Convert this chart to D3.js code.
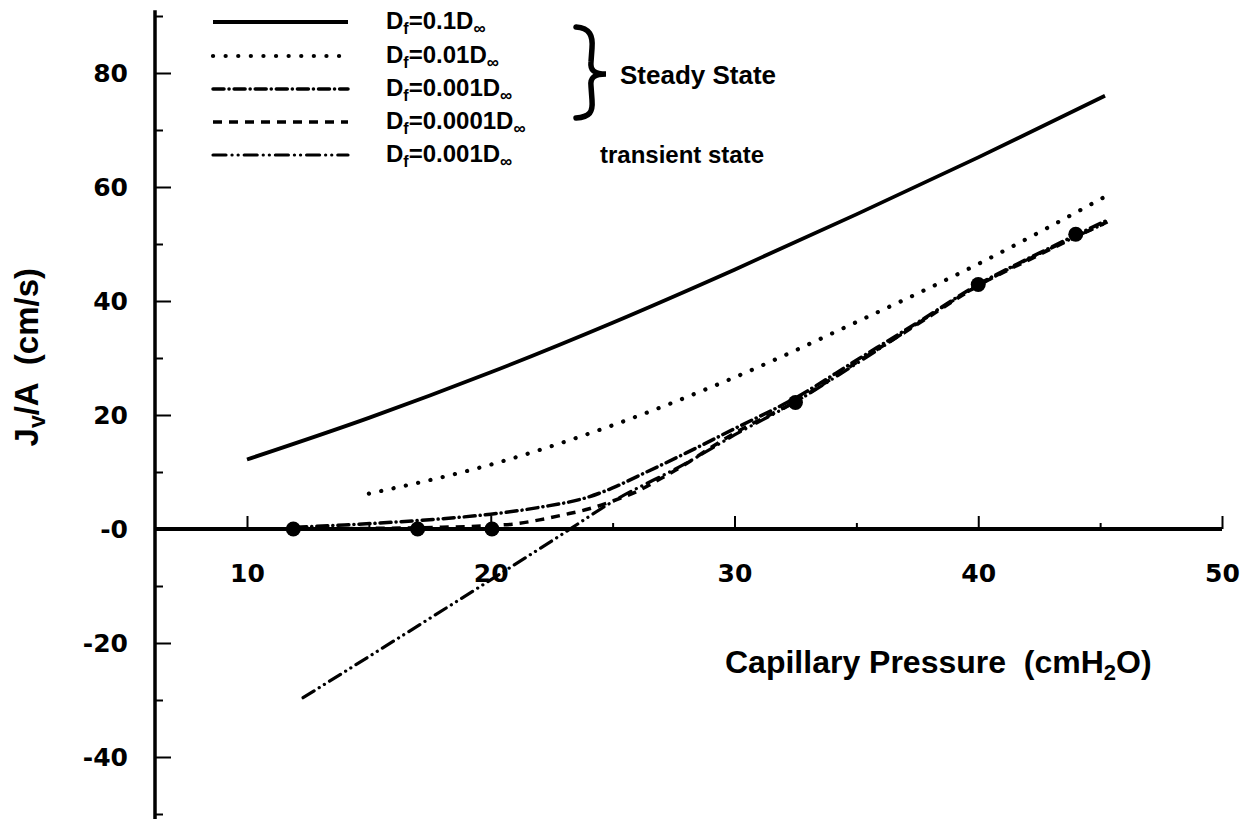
<!DOCTYPE html>
<html><head><meta charset="utf-8">
<script src="https://cdn.jsdelivr.net/npm/d3@7"></script>
<style>body{margin:0;background:#fff}svg{display:block}text{white-space:pre}</style>
</head><body>
<svg id="chart" width="1252" height="819"></svg>
<script>
// ---------- data ----------
const xMajorTicks = [10, 20, 30, 40, 50];
const xMinorTicks = [15, 25, 35, 45];
const yMajorTicks = [-40, -20, 0, 20, 40, 60, 80];
const yTickLabels = ["-40", "-20", "-0", "20", "40", "60", "80"];
const yMinorTicks = [-50, -30, -10, 10, 30, 50, 70, 90];

// Df = 0.1 D∞ (steady state)
const s01X = [10, 15, 20, 25, 30, 35, 40, 45.2];
const s01Y = [12.2, 19.5, 27.5, 36.2, 45.5, 55.2, 65.2, 76];
// Df = 0.01 D∞ (steady state)
const s001X = [15, 20, 25, 30, 35, 40, 45.2];
const s001Y = [6.2, 11.3, 18.2, 26.6, 36.3, 46.5, 58.3];
// Df = 0.001 D∞ (steady state)
const s0001X = [12, 14, 16, 18, 20, 22, 24, 25, 26, 28, 30, 32.5, 35, 37.5, 40, 42.5, 45.3];
const s0001Y = [0.3, 0.7, 1.2, 1.8, 2.6, 3.8, 5.6, 7.2, 9.2, 13.3, 17.6, 23, 29.6, 36.2, 42.9, 48.4, 54.2];
// Df = 0.0001 D∞ (steady state)
const s00001X = [12, 15, 18, 20, 21, 22, 23, 24, 25, 26, 27, 28, 29, 30, 32.5, 35, 37.5, 40, 42.5, 45.3];
const s00001Y = [0, 0.1, 0.3, 0.6, 0.9, 1.6, 2.5, 3.5, 4.9, 6.6, 8.9, 11.4, 14.2, 16.8, 22.4, 29.2, 35.9, 42.7, 48.1, 53.9];
// Df = 0.001 D∞ (transient state)
const tr0001X = [12.3, 22.9, 25, 28, 30, 32.5, 35, 40, 45.3];
const tr0001Y = [-29.6, -1, 4.8, 11.5, 16.5, 22.3, 29, 42.7, 53.8];
// measured points
const expX = [11.9, 17, 20.05, 32.5, 40, 44];
const expY = [0, 0, 0, 22.2, 42.9, 51.7];

const legendCoeffs = ["0.1", "0.01", "0.001", "0.0001", "0.001"];

// ---------- layout ----------
const svg = d3.select("#chart");
const x = d3.scaleLinear().domain([10, 50]).range([247, 1222]);
const y = d3.scaleLinear().domain([0, 80]).range([529, 73]);
const xStart = x.invert(155);
const yTop = 91, yBottom = -51;

const tickFont = "'DejaVu Sans', sans-serif";
const textFont = "'Liberation Sans', Arial, sans-serif";

// y axis
const yAxisMajor = d3.axisLeft(y).tickValues(yMajorTicks)
  .tickFormat((d, i) => yTickLabels[i]).tickSizeInner(-16).tickSizeOuter(0).tickPadding(27);
const yAxisMinor = d3.axisLeft(y).tickValues(yMinorTicks)
  .tickFormat("").tickSizeInner(-8).tickSizeOuter(0);
const gy = svg.append("g").attr("transform", `translate(${x(xStart)},0)`);
gy.call(yAxisMajor);
gy.append("g").call(yAxisMinor);
gy.selectAll(".domain").remove();
gy.append("line").attr("x1", 0).attr("x2", 0).attr("y1", y(yTop)).attr("y2", y(yBottom))
  .attr("stroke", "#000").attr("stroke-width", 3.5);
gy.selectAll(".tick line").attr("stroke", "#000").attr("stroke-width", 2);
gy.selectAll(".tick text").attr("font-family", tickFont).attr("font-weight", "bold")
  .attr("font-size", 25).attr("fill", "#000");

// x axis
const xAxisMajor = d3.axisBottom(x).tickValues(xMajorTicks).tickFormat(d3.format("d"))
  .tickSizeInner(-13).tickSizeOuter(0).tickPadding(35);
const xAxisMinor = d3.axisBottom(x).tickValues(xMinorTicks).tickFormat("")
  .tickSizeInner(-6).tickSizeOuter(0);
const gx = svg.append("g").attr("transform", `translate(0,${y(0)})`);
gx.call(xAxisMajor);
gx.append("g").call(xAxisMinor);
gx.selectAll(".domain").remove();
gx.append("line").attr("x1", x(xStart)).attr("x2", x(50)).attr("y1", 0).attr("y2", 0)
  .attr("stroke", "#000").attr("stroke-width", 4);
gx.selectAll(".tick line").attr("stroke", "#000").attr("stroke-width", 2);
gx.selectAll(".tick text").attr("font-family", tickFont).attr("font-weight", "bold")
  .attr("font-size", 25).attr("fill", "#000");

// series
const styles = [
  { dash: null, cap: "butt", w: 3.8 },
  { dash: "0.1,12.5", cap: "round", w: 4.2 },
  { dash: "11,5,0.1,5", cap: "round", w: 3.5 },
  { dash: "9,7", cap: "butt", w: 3.5 },
  { dash: "13,6,0.1,6,0.1,6", cap: "round", w: 3.2 }
];
const seriesX = [s01X, s001X, s0001X, s00001X, tr0001X];
const seriesY = [s01Y, s001Y, s0001Y, s00001Y, tr0001Y];
const line = d3.line().x(d => x(d[0])).y(d => y(d[1])).curve(d3.curveMonotoneX);
seriesX.forEach((xs, i) => {
  const pts = xs.map((v, j) => [v, seriesY[i][j]]);
  svg.append("path").attr("d", line(pts)).attr("fill", "none")
    .attr("stroke", "#000").attr("stroke-width", styles[i].w)
    .attr("stroke-linecap", styles[i].cap)
    .attr("stroke-dasharray", styles[i].dash);
});

// points
svg.append("g").selectAll("circle").data(expX).join("circle")
  .attr("cx", d => x(d)).attr("cy", (d, i) => y(expY[i])).attr("r", 7.5).attr("fill", "#000");

// legend
const legRows = [22, 56, 89, 122, 155];
const leg = svg.append("g");
legendCoeffs.forEach((c, i) => {
  const ry = legRows[i];
  leg.append("line").attr("x1", 213).attr("x2", 348).attr("y1", ry).attr("y2", ry)
    .attr("stroke", "#000").attr("stroke-width", styles[i].w)
    .attr("stroke-linecap", styles[i].cap).attr("stroke-dasharray", styles[i].dash);
  const t = leg.append("text").attr("x", 386).attr("y", ry + 7)
    .attr("font-family", textFont).attr("font-weight", "bold").attr("font-size", 24).attr("fill", "#000");
  t.append("tspan").text("D");
  t.append("tspan").attr("dy", 5).attr("font-size", 16).text("f");
  t.append("tspan").attr("dy", -5).text("=" + c + "D");
  t.append("tspan").attr("dy", 5).attr("font-size", 17).text("∞");
});
leg.append("text").attr("x", 600).attr("y", legRows[4] + 8)
  .attr("font-family", textFont).attr("font-weight", "bold").attr("font-size", 24)
  .attr("fill", "#000").text("transient state");
// brace
leg.append("path")
  .attr("d", "M576,27 C590,28 593,36 592,48 L591,62 C590,70 594,74 606,74 C594,74 590,78 591,86 L592,100 C593,112 590,117 576,118")
  .attr("fill", "none").attr("stroke", "#000").attr("stroke-width", 5.5).attr("stroke-linecap", "round");
leg.append("text").attr("x", 620).attr("y", 84).attr("font-family", textFont)
  .attr("font-weight", "bold").attr("font-size", 26).attr("fill", "#000").text("Steady State");

// axis titles
const xt = svg.append("text").attr("x", 725).attr("y", 673).attr("font-family", textFont)
  .attr("font-weight", "bold").attr("font-size", 32).attr("fill", "#000");
xt.append("tspan").text("Capillary Pressure  (cmH");
xt.append("tspan").attr("dy", 7).attr("font-size", 22).text("2");
xt.append("tspan").attr("dy", -7).text("O)");

const yt = svg.append("text").attr("transform", "translate(38,268) rotate(-90)")
  .attr("text-anchor", "end").attr("font-family", textFont)
  .attr("font-weight", "bold").attr("font-size", 33).attr("fill", "#000");
yt.append("tspan").text("J");
yt.append("tspan").attr("dy", 7).attr("font-size", 23).text("v");
yt.append("tspan").attr("dy", -7).text("/A  (cm/s)");
</script>
</body></html>
